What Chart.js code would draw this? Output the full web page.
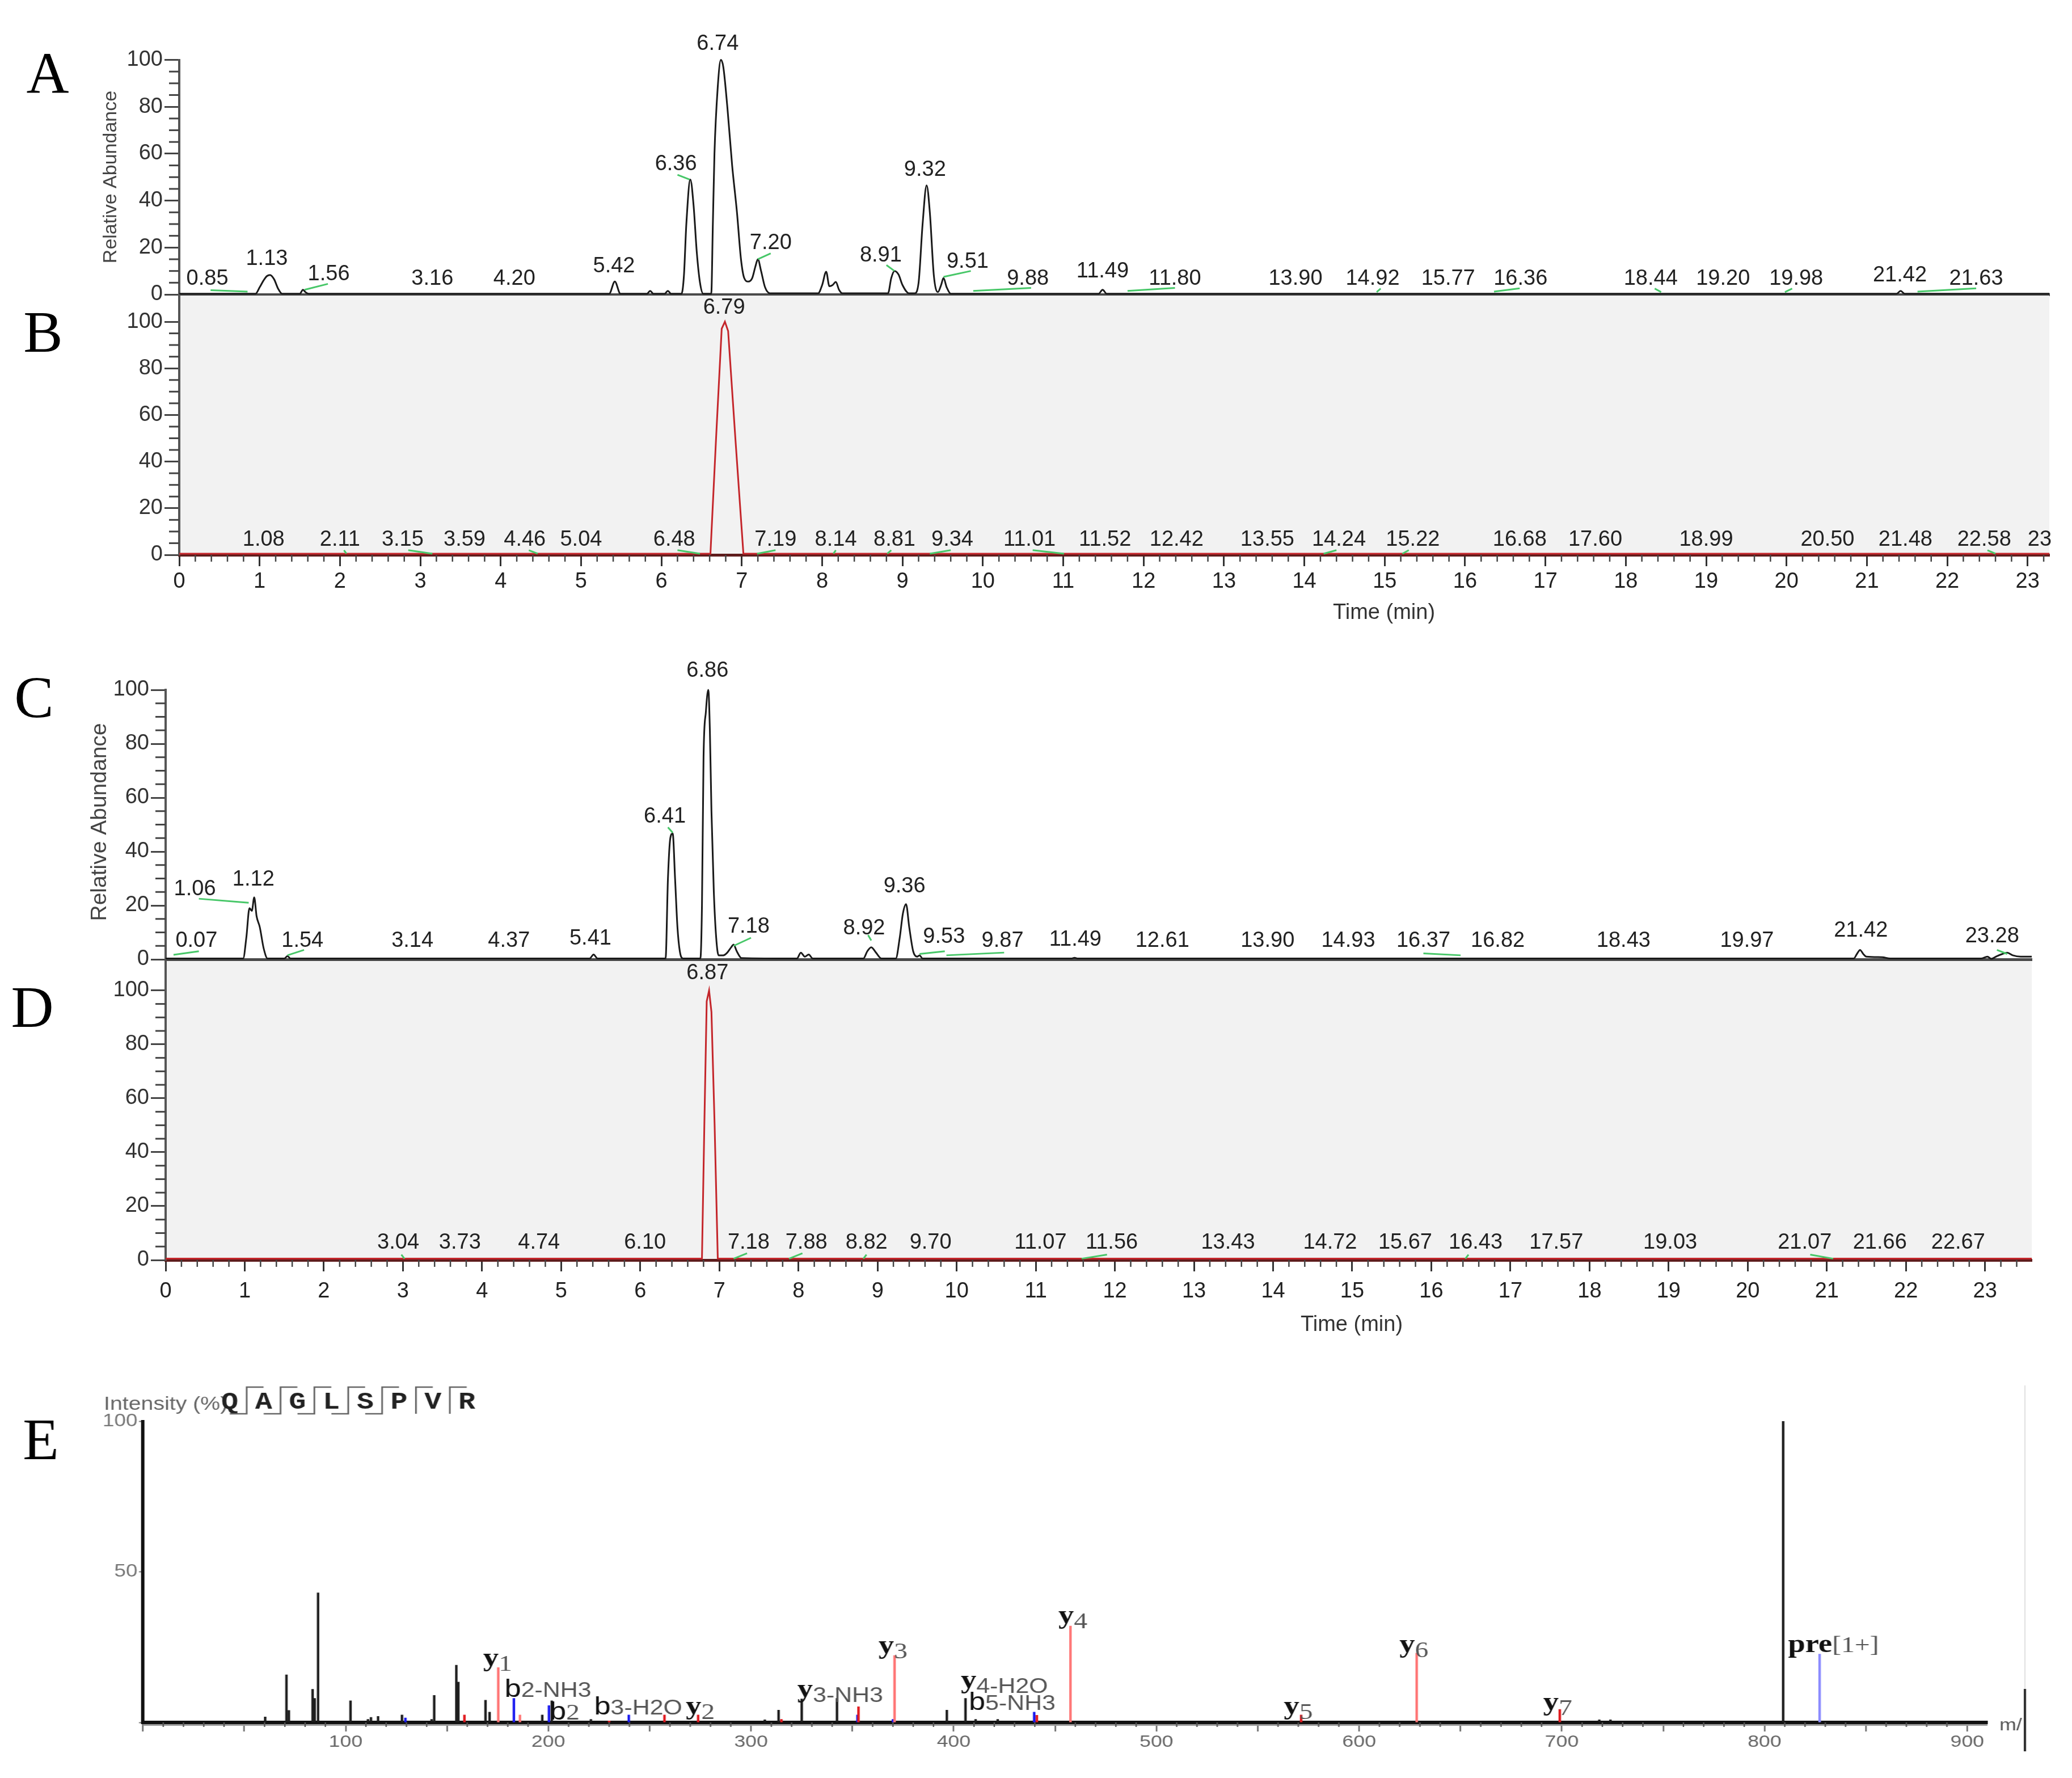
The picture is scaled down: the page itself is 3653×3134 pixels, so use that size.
<!DOCTYPE html>
<html>
<head>
<meta charset="utf-8">
<script src="https://cdn.jsdelivr.net/npm/chart.js@4.4.1/dist/chart.umd.min.js"></script>
<style>
  html, body { margin: 0; padding: 0; background: #fff; }
  body { width: 3653px; height: 3134px; position: relative; overflow: hidden; }
  .panel { position: absolute; left: 0; }
  .panel canvas { display: block; }
</style>
</head>
<body>
<div class="panel" style="top:0px"><canvas id="chartA" width="3653" height="545"></canvas></div>
<div class="panel" style="top:480px"><canvas id="chartB" width="3653" height="640"></canvas></div>
<div class="panel" style="top:1150px"><canvas id="chartC" width="3653" height="570"></canvas></div>
<div class="panel" style="top:1655px"><canvas id="chartD" width="3653" height="730"></canvas></div>
<div class="panel" style="top:2380px; transform:scaleX(1.19); transform-origin:0 0;"><canvas id="chartE" width="3070" height="754"></canvas></div>
<script>
const S = 1.19; // panel E is stretched sideways in the original

// ---------- A : total ion chromatogram ----------
const aTime = [
  0, 0.95, 1.0, 1.05, 1.09, 1.13, 1.18, 1.23, 1.28,
  1.5, 1.54, 1.57, 1.61,
  5.35, 5.42, 5.49, 5.82, 5.86, 5.9, 6.04, 6.08, 6.12,
  6.25, 6.28, 6.31, 6.36, 6.4, 6.44, 6.48, 6.52,
  6.62, 6.64, 6.66, 6.7, 6.74, 6.77, 6.82, 6.88, 6.94, 6.99, 7.03, 7.08, 7.13, 7.17, 7.2, 7.24, 7.29, 7.35,
  7.95, 8.0, 8.05, 8.09, 8.13, 8.17, 8.21, 8.25,
  8.82, 8.86, 8.9, 8.95, 9.0, 9.08,
  9.15, 9.2, 9.25, 9.3, 9.34, 9.39, 9.44, 9.48, 9.51, 9.55, 9.6,
  11.44, 11.49, 11.54, 21.37, 21.42, 21.47, 23.27
];
const aAbund = [
  0.3, 0.3, 3, 6, 7.8, 8.3, 6.5, 2.5, 0.3,
  0.3, 2, 1, 0.3,
  0.3, 5.5, 0.3, 0.3, 1.5, 0.3, 0.3, 1.5, 0.3,
  0.3, 8, 30, 49, 38, 18, 5, 0.3,
  0.3, 30, 60, 88, 100, 97, 80, 55, 35, 15, 7, 5.5, 7, 12, 15, 10, 3, 0.5,
  0.5, 4, 9.7, 3.5, 4, 5.3, 2, 0.5,
  0.5, 7, 10, 8.5, 4, 0.5,
  0.5, 5, 30, 46.5, 35, 8, 1, 4, 7, 3, 0.3,
  0.3, 2, 0.3, 0.3, 1.5, 0.3, 0.3
];
const aLabelText = ['0.85','1.13','1.56','3.16','4.20','5.42','6.36','6.74','7.20','8.91','9.32','9.51','9.88','11.49','11.80','13.90','14.92','15.77','16.36','18.44','19.20','19.98','21.42','21.63'];
const aLabelX = [0.35,1.09,1.86,3.15,4.17,5.41,6.18,6.7,7.36,8.73,9.28,9.81,10.56,11.49,12.39,13.89,14.85,15.79,16.69,18.31,19.21,20.12,21.41,22.36];
const aLabelY = [6.7,15,8.5,6.7,6.7,12,55.6,106.7,21.8,16.5,53,13.8,6.7,9.7,6.7,6.7,6.7,6.7,6.7,6.7,6.7,6.7,8,6.7];
const aLinks = [[0.39,1.8,0.85,1.2],[1.56,2,1.85,4.5],[6.2,51,6.35,49],[7.2,15,7.36,17.5],[8.8,12.5,8.9,10],[9.51,7.5,9.85,10],[9.88,1.5,10.6,2.8],[11.8,1.5,12.39,2.8],[14.9,1,14.95,2.5],[16.36,1.2,16.68,2.6],[18.36,2.5,18.44,1],[19.98,1,20.07,2.5],[21.63,1.2,22.36,2.6]];

// ---------- B : extracted ion ----------
const bTime = [0, 6.61, 6.68, 6.75, 6.79, 6.83, 6.92, 7.02, 23.27];
const bAbund = [0.5, 0.5, 50, 97, 100, 96, 50, 0.5, 0.5];
const bLabelText = ['6.79','1.08','2.11','3.15','3.59','4.46','5.04','6.48','7.19','8.14','8.81','9.34','11.01','11.52','12.42','13.55','14.24','15.22','16.68','17.60','18.99','20.50','21.48','22.58','23'];
const bLabelX = [6.78,1.05,2.0,2.78,3.55,4.3,5.0,6.16,7.42,8.17,8.9,9.62,10.58,11.52,12.41,13.54,14.43,15.35,16.68,17.62,19.0,20.51,21.48,22.46,23.15];
const bLabelY = [106,6.5,6.5,6.5,6.5,6.5,6.5,6.5,6.5,6.5,6.5,6.5,6.5,6.5,6.5,6.5,6.5,6.5,6.5,6.5,6.5,6.5,6.5,6.5,6.5];
const bLinks = [[2.05,2,2.08,0.5],[2.85,2,3.15,0.5],[4.35,2,4.46,0.5],[6.2,2,6.48,0.5],[7.19,0.5,7.42,2],[8.14,0.5,8.17,2],[8.81,0.5,8.86,2],[9.34,0.5,9.6,2],[10.62,2,11.01,0.5],[14.24,0.5,14.4,2],[15.22,0.5,15.3,2],[22.5,2,22.6,0.5]];

// ---------- C : total ion chromatogram ----------
const cTime = [
  0, 0.98, 1.02, 1.06, 1.09, 1.12, 1.15, 1.19, 1.24, 1.29,
  1.5, 1.54, 1.58, 5.36, 5.41, 5.46,
  6.32, 6.35, 6.38, 6.41, 6.44, 6.47, 6.5, 6.54,
  6.76, 6.78, 6.8, 6.83, 6.86, 6.88, 6.9, 6.93, 6.96, 6.99,
  7.05, 7.1, 7.15, 7.18, 7.22, 7.28,
  7.98, 8.03, 8.08, 8.13, 8.18,
  8.82, 8.87, 8.92, 8.98, 9.05,
  9.23, 9.28, 9.32, 9.36, 9.4, 9.45, 9.5, 9.53, 9.57,
  11.45, 11.49, 11.53,
  21.34, 21.38, 21.42, 21.46, 21.5, 21.7, 21.8,
  22.95, 23.03, 23.08, 23.15, 23.22, 23.28, 23.35, 23.45, 23.59
];
const cAbund = [
  0.3, 0.3, 8, 19, 18, 23, 16, 12, 4, 0.3,
  0.3, 1.2, 0.3, 0.3, 1.8, 0.3,
  0.3, 30, 45, 46.7, 30, 12, 3, 0.3,
  0.3, 20, 75, 92, 100, 85, 55, 25, 8, 1.5,
  1.5, 2.5, 4.5, 5.5, 3, 0.5,
  0.3, 2.5, 1, 1.8, 0.3,
  0.3, 3, 4.5, 2.5, 0.3,
  0.3, 8, 17, 20.5, 12, 3, 1, 1.5, 0.3,
  0.3, 0.6, 0.3,
  0.3, 2, 3.5, 2, 1, 0.8, 0.3,
  0.3, 1, 0.2, 1.2, 2, 2.5, 1.5, 1, 1
];
const cLabelText = ['0.07','1.06','1.12','1.54','3.14','4.37','5.41','6.41','6.86','7.18','8.92','9.36','9.53','9.87','11.49','12.61','13.90','14.93','16.37','16.82','18.43','19.97','21.42','23.28'];
const cLabelX = [0.39,0.37,1.11,1.73,3.12,4.34,5.37,6.31,6.85,7.37,8.83,9.34,9.84,10.58,11.5,12.6,13.93,14.95,15.9,16.84,18.43,19.99,21.43,23.09];
const cLabelY = [6.9,26,29.6,6.9,6.9,6.9,7.7,53,107,12,11.4,27,8.4,6.9,7.2,6.9,6.9,6.9,6.9,6.9,6.9,6.9,10.6,8.6];
const cLinks = [[0.1,1.7,0.42,3],[0.42,22.5,1.05,21],[1.54,1.5,1.75,3.5],[6.35,49,6.41,47],[7.18,5,7.4,8],[8.88,9,8.92,7],[9.53,2,9.85,3],[9.87,1.5,10.6,2.5],[15.9,2.2,16.37,1.5],[23.15,3.5,23.28,2]];

// ---------- D : extracted ion ----------
const dTime = [0, 6.78, 6.81, 6.84, 6.87, 6.9, 6.94, 6.98, 23.59];
const dAbund = [0.5, 0.5, 50, 96, 100, 92, 50, 0.5, 0.5];
const dLabelText = ['6.87','3.04','3.73','4.74','6.10','7.18','7.88','8.82','9.70','11.07','11.56','13.43','14.72','15.67','16.43','17.57','19.03','21.07','21.66','22.67'];
const dLabelX = [6.85,2.94,3.72,4.72,6.06,7.37,8.1,8.86,9.67,11.06,11.96,13.43,14.72,15.67,16.56,17.58,19.02,20.72,21.67,22.66];
const dLabelY = [106.4,6.5,6.5,6.5,6.5,6.5,6.5,6.5,6.5,6.5,6.5,6.5,6.5,6.5,6.5,6.5,6.5,6.5,6.5,6.5];
const dLinks = [[2.98,2,3.02,0.5],[7.18,0.5,7.35,2.5],[7.88,0.5,8.05,2.5],[8.82,0.5,8.86,2],[11.58,0.5,11.9,2],[16.43,0.5,16.47,2],[20.79,2,21.08,0.5]];

// ---------- E : MS/MS spectrum ----------
const specMz = [60.3,70.8,72.0,83.7,84.7,86.4,102.4,111,112.5,116,127.8,129.5,142.4,143.7,154.6,155.6,158.6,169,171,175.3,183,186,197,200.3,201.7,221,230,239.7,257.3,273.9,306.8,313.6,315,325,342.4,352.5,353,370,370.8,396.6,405.8,410.8,421.7,439.7,441,457.6,571.4,628.4,699,718.5,724,809.2,827.2];
const specInt = [1.8,15.8,4,11,8,43,7.2,1,1.7,2,2.5,1.5,1,9,19,13.4,2.5,7.4,3.4,18.2,8,2.5,2.5,5.6,7.2,1,0.5,2.5,2.5,2.5,0.9,4.1,1,7.8,8,2.5,5.2,1,22.2,4.1,8,1,1,3.4,2.4,32,2.5,23,4.3,0.9,0.9,100,22.7];
const specKind = ['k','k','k','k','k','k','k','k','k','k','k','b','k','k','k','k','r','k','k','lr','b','lr','k','b','k','k','r','b','r','r','k','k','r','k','k','b','r','b','lr','k','k','k','k','b','r','lr','r','lr','r','k','k','k','lb'];
const ionMain = ['y','b','b','b','y','y','y','y','b','y','y','y','y','pre'];
const ionSub = ['1','2-NH3','2','3-H2O','2','3-NH3','3','4-H2O','5-NH3','4','5','6','7','[1+]'];
const ionMz = [175, 199.8, 208, 244.3, 275, 344, 370, 425, 428.8, 458.8, 570, 627, 698, 834];
const ionY = [21.5, 11.1, 3.6, 5.3, 5.5, 11.1, 25.6, 14.1, 6.7, 35.6, 5.5, 26, 6.8, 26];
const peptide = ['Q','A','G','L','S','P','V','R'];

const ionColor = { k: '#1c1c1c', r: '#e0191e', lr: '#ff7474', b: '#1717f0', lb: '#8a8aff' };

function drawLetter(ctx, letter, x, y) {
  ctx.fillStyle = '#000';
  ctx.font = '104px "Liberation Serif"';
  ctx.textAlign = 'center';
  ctx.textBaseline = 'alphabetic';
  ctx.fillText(letter, x, y + 34);
}

function chromDecor(p) {
  return {
    id: 'decor' + p.letter,
    beforeDraw(chart) {
      if (!p.shade) return;
      const a = chart.chartArea, ctx = chart.ctx;
      ctx.save();
      ctx.fillStyle = '#f2f2f2';
      ctx.fillRect(a.left, a.top, a.right - a.left, a.bottom - a.top);
      ctx.restore();
    },
    afterDraw(chart) {
      const ctx = chart.ctx, xs = chart.scales.x, ys = chart.scales.y, a = chart.chartArea;
      ctx.save();
      // minor ticks
      ctx.strokeStyle = '#444';
      ctx.lineWidth = 3;
      for (let v = 5; v < 100; v += 5) {
        if (v % 20 === 0) continue;
        const y = ys.getPixelForValue(v);
        ctx.beginPath(); ctx.moveTo(a.left - 18, y); ctx.lineTo(a.left, y); ctx.stroke();
      }
      if (p.showX) {
        ctx.lineWidth = 2.5;
        for (let k = 1; k / 5 < xs.max; k++) {
          if (k % 5 === 0) continue;
          const x = xs.getPixelForValue(k / 5);
          ctx.beginPath(); ctx.moveTo(x, a.bottom); ctx.lineTo(x, a.bottom + 12); ctx.stroke();
        }
      }
      // green baseline markers
      ctx.strokeStyle = '#47c768';
      ctx.lineWidth = 3;
      p.links.forEach(l => {
        ctx.beginPath();
        ctx.moveTo(xs.getPixelForValue(l[0]), ys.getPixelForValue(l[1]));
        ctx.lineTo(xs.getPixelForValue(l[2]), ys.getPixelForValue(l[3]));
        ctx.stroke();
      });
      // peak labels
      ctx.fillStyle = '#222';
      ctx.font = '38px "Liberation Sans"';
      ctx.textAlign = 'center';
      ctx.textBaseline = 'middle';
      p.labelText.forEach((s, i) => {
        ctx.fillText(s, xs.getPixelForValue(p.labelX[i]), ys.getPixelForValue(p.labelY[i]));
      });
      // axis titles
      if (p.yTitle) {
        ctx.save();
        ctx.fillStyle = '#444';
        ctx.font = p.yTitle.size + 'px "Liberation Sans"';
        ctx.translate(p.yTitle.x, p.yTitle.y);
        ctx.rotate(-Math.PI / 2);
        ctx.fillText('Relative Abundance', 0, 0);
        ctx.restore();
      }
      if (p.xTitle) {
        ctx.fillStyle = '#333';
        ctx.font = '38px "Liberation Sans"';
        ctx.fillText('Time (min)', p.xTitle.x, p.xTitle.y);
      }
      drawLetter(ctx, p.letter, p.letterPos[0], p.letterPos[1]);
      ctx.restore();
    }
  };
}

function chromChart(id, p) {
  const tickFont = { family: 'Liberation Sans', size: 38 };
  return new Chart(document.getElementById(id), {
    type: 'line',
    data: {
      datasets: [{
        data: p.time.map((t, i) => ({ x: t, y: p.abund[i] })),
        borderColor: p.color,
        borderWidth: 3,
        pointRadius: 0,
        cubicInterpolationMode: p.smooth ? 'monotone' : 'default',
        tension: 0,
        clip: false
      }]
    },
    options: {
      responsive: false,
      animation: false,
      devicePixelRatio: 1,
      layout: { padding: p.pad },
      plugins: { legend: { display: false }, tooltip: { enabled: false } },
      scales: {
        x: {
          type: 'linear', min: 0, max: p.xMax,
          ticks: { display: p.showX, stepSize: 1, includeBounds: false, autoSkip: false, maxRotation: 0,
                   font: tickFont, color: '#222', padding: p.tickPad || 0 },
          grid: { display: p.showX, drawOnChartArea: false, tickLength: 20, tickWidth: 3, tickColor: '#333' },
          border: { display: true, color: p.axisColor, width: 5 },
          afterFit: s => { s.height = p.xH; }
        },
        y: {
          min: 0, max: p.yMax,
          ticks: { stepSize: 20, includeBounds: false, font: tickFont, color: '#333', padding: 3 },
          grid: { drawOnChartArea: false, tickLength: 26, tickWidth: 3, tickColor: '#444' },
          border: { display: true, color: '#555', width: 4 },
          afterFit: s => { s.width = p.yW; }
        }
      }
    },
    plugins: [chromDecor(p)]
  });
}

chromChart('chartA', {
  letter: 'A', letterPos: [84, 130], time: aTime, abund: aAbund, color: '#1a1a1a', smooth: true,
  xMax: 23.27, yMax: 100, yW: 316, xH: 0, pad: { top: 105.5, right: 40, bottom: 26, left: 0 },
  showX: false, shade: false, axisColor: '#4a4a4a',
  labelText: aLabelText, labelX: aLabelX, labelY: aLabelY, links: aLinks,
  yTitle: { x: 196, y: 312, size: 34 }
});
chromChart('chartB', {
  letter: 'B', letterPos: [76, 106], time: bTime, abund: bAbund, color: '#c4262b', smooth: false,
  xMax: 23.27, yMax: 111.2, yW: 316, xH: 142, pad: { top: 41, right: 40, bottom: 0, left: 0 },
  showX: true, shade: true, tickPad: 5, axisColor: '#5e1c1c',
  labelText: bLabelText, labelX: bLabelX, labelY: bLabelY, links: bLinks,
  xTitle: { x: 2440, y: 601 }
});
chromChart('chartC', {
  letter: 'C', letterPos: [60, 80], time: cTime, abund: cAbund, color: '#1a1a1a', smooth: true,
  xMax: 23.59, yMax: 100, yW: 292, xH: 0, pad: { top: 66, right: 71, bottom: 29, left: 0 },
  showX: false, shade: false, axisColor: '#4a4a4a',
  labelText: cLabelText, labelX: cLabelX, labelY: cLabelY, links: cLinks,
  yTitle: { x: 176, y: 299, size: 39 }
});
chromChart('chartD', {
  letter: 'D', letterPos: [57, 121], time: dTime, abund: dAbund, color: '#c4262b', smooth: false,
  xMax: 23.59, yMax: 110.7, yW: 292, xH: 164, pad: { top: 40, right: 71, bottom: 0, left: 0 },
  showX: true, shade: true, tickPad: 13, axisColor: '#5e1c1c',
  labelText: dLabelText, labelX: dLabelX, labelY: dLabelY, links: dLinks,
  xTitle: { x: 2383, y: 681 }
});

// ---------- spectrum ----------
const specDecor = {
  id: 'specDecor',
  afterDraw(chart) {
    const ctx = chart.ctx, xs = chart.scales.x, ys = chart.scales.y, a = chart.chartArea;
    ctx.save();
    ctx.fillStyle = '#9a9a9a';
    ctx.fillRect(a.left, a.bottom + 3, a.right - a.left, 3);
    ctx.strokeStyle = '#555';
    ctx.lineWidth = 2;
    for (let m = 10; m < 910; m += 10) {
      if (m % 50 === 0) continue;
      const x = xs.getPixelForValue(m);
      ctx.beginPath(); ctx.moveTo(x, a.bottom); ctx.lineTo(x, a.bottom + 8); ctx.stroke();
    }

    // ion labels
    ctx.textAlign = 'left';
    ctx.textBaseline = 'alphabetic';
    ionMain.forEach((m, i) => {
      const mainFont = m === 'b' ? '44px "Liberation Sans"' : 'bold 46px "Liberation Serif"';
      const subFont = ionSub[i].indexOf('-') >= 0 ? '36px "Liberation Sans"' : '40px "Liberation Serif"';
      ctx.font = mainFont;
      const w1 = ctx.measureText(m).width;
      ctx.font = subFont;
      const w2 = ctx.measureText(ionSub[i]).width;
      const x0 = xs.getPixelForValue(ionMz[i]) - (w1 + w2) / 2;
      const yb = ys.getPixelForValue(ionY[i]) + 14;
      ctx.font = mainFont;
      ctx.fillStyle = '#111';
      ctx.fillText(m, x0, yb);
      ctx.font = subFont;
      ctx.fillStyle = '#555';
      ctx.fillText(ionSub[i], x0 + w1, yb + (m === 'y' ? 9 : 0));
    });

    // header: intensity label and fragment map
    ctx.fillStyle = '#666';
    ctx.font = '33px "Liberation Sans"';
    ctx.textBaseline = 'middle';
    ctx.fillText('Intensity (%)', 183 / S, 96);
    ctx.font = 'bold 42px "Liberation Mono"';
    ctx.textAlign = 'center';
    ctx.fillStyle = '#222';
    const step = 59.7 / S, x0 = 405 / S;
    peptide.forEach((c, i) => ctx.fillText(c, x0 + i * step, 92));
    ctx.strokeStyle = '#666';
    ctx.lineWidth = 2.5;
    for (let i = 0; i < peptide.length - 1; i++) {
      const sx = x0 + (i + 0.5) * step;
      ctx.beginPath();
      ctx.moveTo(sx + 25, 65); ctx.lineTo(sx, 65); ctx.lineTo(sx, 112);
      if (i < 5) ctx.lineTo(sx - 25, 112);
      ctx.stroke();
    }

    // axis end text and frame edge
    ctx.fillStyle = '#555';
    ctx.font = '30px "Liberation Sans"';
    ctx.textAlign = 'left';
    ctx.fillText('m/', 3525 / S, 662);
    ctx.strokeStyle = '#e4e4e4';
    ctx.lineWidth = 2;
    ctx.beginPath(); ctx.moveTo(3570 / S, 62); ctx.lineTo(3570 / S, 597); ctx.stroke();
    ctx.strokeStyle = '#111';
    ctx.lineWidth = 3;
    ctx.beginPath(); ctx.moveTo(3570 / S, 597); ctx.lineTo(3570 / S, 707); ctx.stroke();

    ctx.save();
    ctx.scale(1 / S, 1);
    drawLetter(ctx, 'E', 72, 158);
    ctx.restore();
    ctx.restore();
  }
};

new Chart(document.getElementById('chartE'), {
  type: 'bar',
  data: {
    datasets: [{
      data: specMz.map((m, i) => ({ x: m, y: specInt[i] })),
      backgroundColor: specKind.map(k => ionColor[k]),
      barThickness: 3,
      borderWidth: 0
    }]
  },
  options: {
    responsive: false,
    animation: false,
    devicePixelRatio: 1,
    layout: { padding: { top: 125, right: 125.5, bottom: 0, left: 0 } },
    plugins: { legend: { display: false }, tooltip: { enabled: false } },
    scales: {
      x: {
        type: 'linear', min: 0, max: 910, offset: false,
        ticks: { stepSize: 50, includeBounds: false, autoSkip: false, maxRotation: 0,
                 callback: v => (v % 100 === 0 && v > 0) ? v : '',
                 font: { family: 'Liberation Sans', size: 30 }, color: '#666', padding: 1 },
        grid: { offset: false, drawOnChartArea: false, tickLength: 16, tickWidth: 2, tickColor: '#555' },
        border: { color: '#111', width: 6 },
        afterFit: s => { s.height = 98; }
      },
      y: {
        min: 0, max: 100,
        ticks: { stepSize: 50, callback: v => v ? v : '',
                 font: { family: 'Liberation Sans', size: 31 }, color: '#777', padding: 2 },
        grid: { drawOnChartArea: false, tickLength: 6, tickWidth: 2, tickColor: '#777' },
        border: { color: '#111', width: 5 },
        afterFit: s => { s.width = 252 / S; }
      }
    }
  },
  plugins: [specDecor]
});
</script>
</body>
</html>
